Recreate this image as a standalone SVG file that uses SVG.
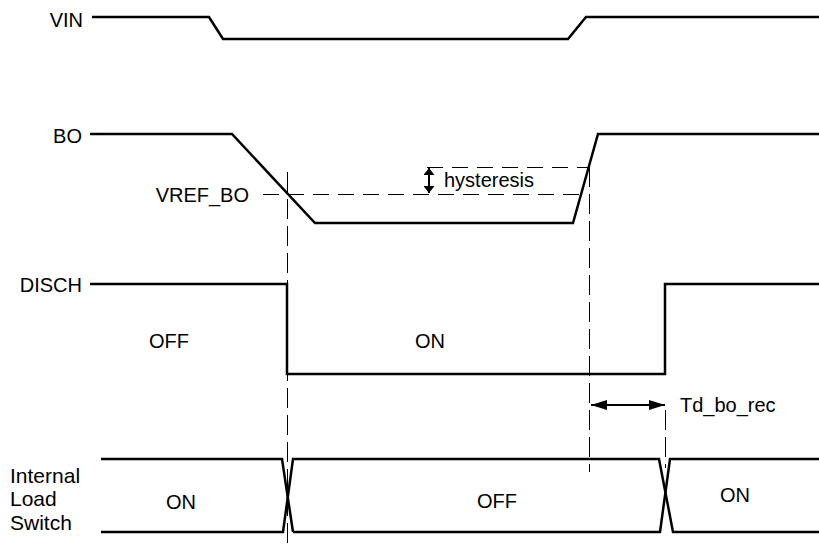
<svg xmlns="http://www.w3.org/2000/svg" width="819" height="548" viewBox="0 0 819 548">
<defs>
<style>
.w{fill:none;stroke:#000;stroke-width:2.5;stroke-linejoin:miter}
.d{fill:none;stroke:#000;stroke-width:1;stroke-dasharray:16 9}
.dv{fill:none;stroke:#000;stroke-width:1;stroke-dasharray:20 7}
.t{font-family:"Liberation Sans",Arial,sans-serif;font-size:20px;fill:#000}
.a{fill:none;stroke:#000;stroke-width:2}
</style>
<marker id="ah" viewBox="0 0 16 10" refX="16" refY="5" markerWidth="16" markerHeight="10" markerUnits="userSpaceOnUse" orient="auto-start-reverse">
<path d="M0,0 L16,5 L0,10 Z" fill="#000"/>
</marker>
<marker id="ahs" viewBox="0 0 7 11" refX="7" refY="5.5" markerWidth="7" markerHeight="11" markerUnits="userSpaceOnUse" orient="auto-start-reverse">
<path d="M0,0 L7,5.5 L0,11 Z" fill="#000"/>
</marker>
</defs>
<rect width="819" height="548" fill="#fff"/>

<g id="vin">
<text class="t" x="83" y="26.5" text-anchor="end">VIN</text>
<polyline class="w" points="92,17 209,17 223,39 568,39 586,17 819,17"/>
</g>

<g id="bo">
<text class="t" x="82" y="142.5" text-anchor="end">BO</text>
<polyline class="w" points="90,134 232,134 315,223 573,223 598,134 819,134"/>
<text class="t" x="249" y="202" text-anchor="end">VREF_BO</text>
</g>

<g id="hysteresis">
<text class="t" x="444" y="187">hysteresis</text>
</g>

<g id="disch">
<text class="t" x="82" y="292" text-anchor="end">DISCH</text>
<polyline class="w" points="90,284 287,284 287,374 665,374 665,284 819,284"/>
<text class="t" x="169" y="348" text-anchor="middle">OFF</text>
<text class="t" x="430" y="348" text-anchor="middle">ON</text>
</g>

<g id="td_bo_rec">
<text class="t" x="680" y="412">Td_bo_rec</text>
</g>

<g id="ils">
<text class="t" x="10" y="483" style="font-size:21px">Internal</text>
<text class="t" x="10" y="506" style="font-size:21px">Load</text>
<text class="t" x="10" y="530" style="font-size:21px">Switch</text>
<polyline class="w" points="101,459 282,459 293,532"/>
<polyline class="w" points="101,532 283,532 293,459 659,459 673,532 819,532"/>
<polyline class="w" points="293,532 660,532 670,459 819,459"/>
<text class="t" x="181" y="509" text-anchor="middle">ON</text>
<text class="t" x="497" y="508" text-anchor="middle">OFF</text>
<text class="t" x="735" y="502" text-anchor="middle">ON</text>
</g>

<g id="connectors">
<line class="d" x1="263" y1="194.5" x2="588" y2="194.5"/>
<line class="d" x1="427" y1="167.5" x2="588" y2="167.5"/>
<line class="dv" x1="287.5" y1="172" x2="287.5" y2="546"/>
<line class="dv" x1="589.5" y1="167" x2="589.5" y2="472"/>
<line class="dv" x1="665.5" y1="410" x2="665.5" y2="468"/>
<line class="a" x1="429" y1="168" x2="429" y2="193" marker-start="url(#ahs)" marker-end="url(#ahs)"/>
<line class="a" x1="591" y1="405" x2="665" y2="405" marker-start="url(#ah)" marker-end="url(#ah)"/>
</g>
</svg>
